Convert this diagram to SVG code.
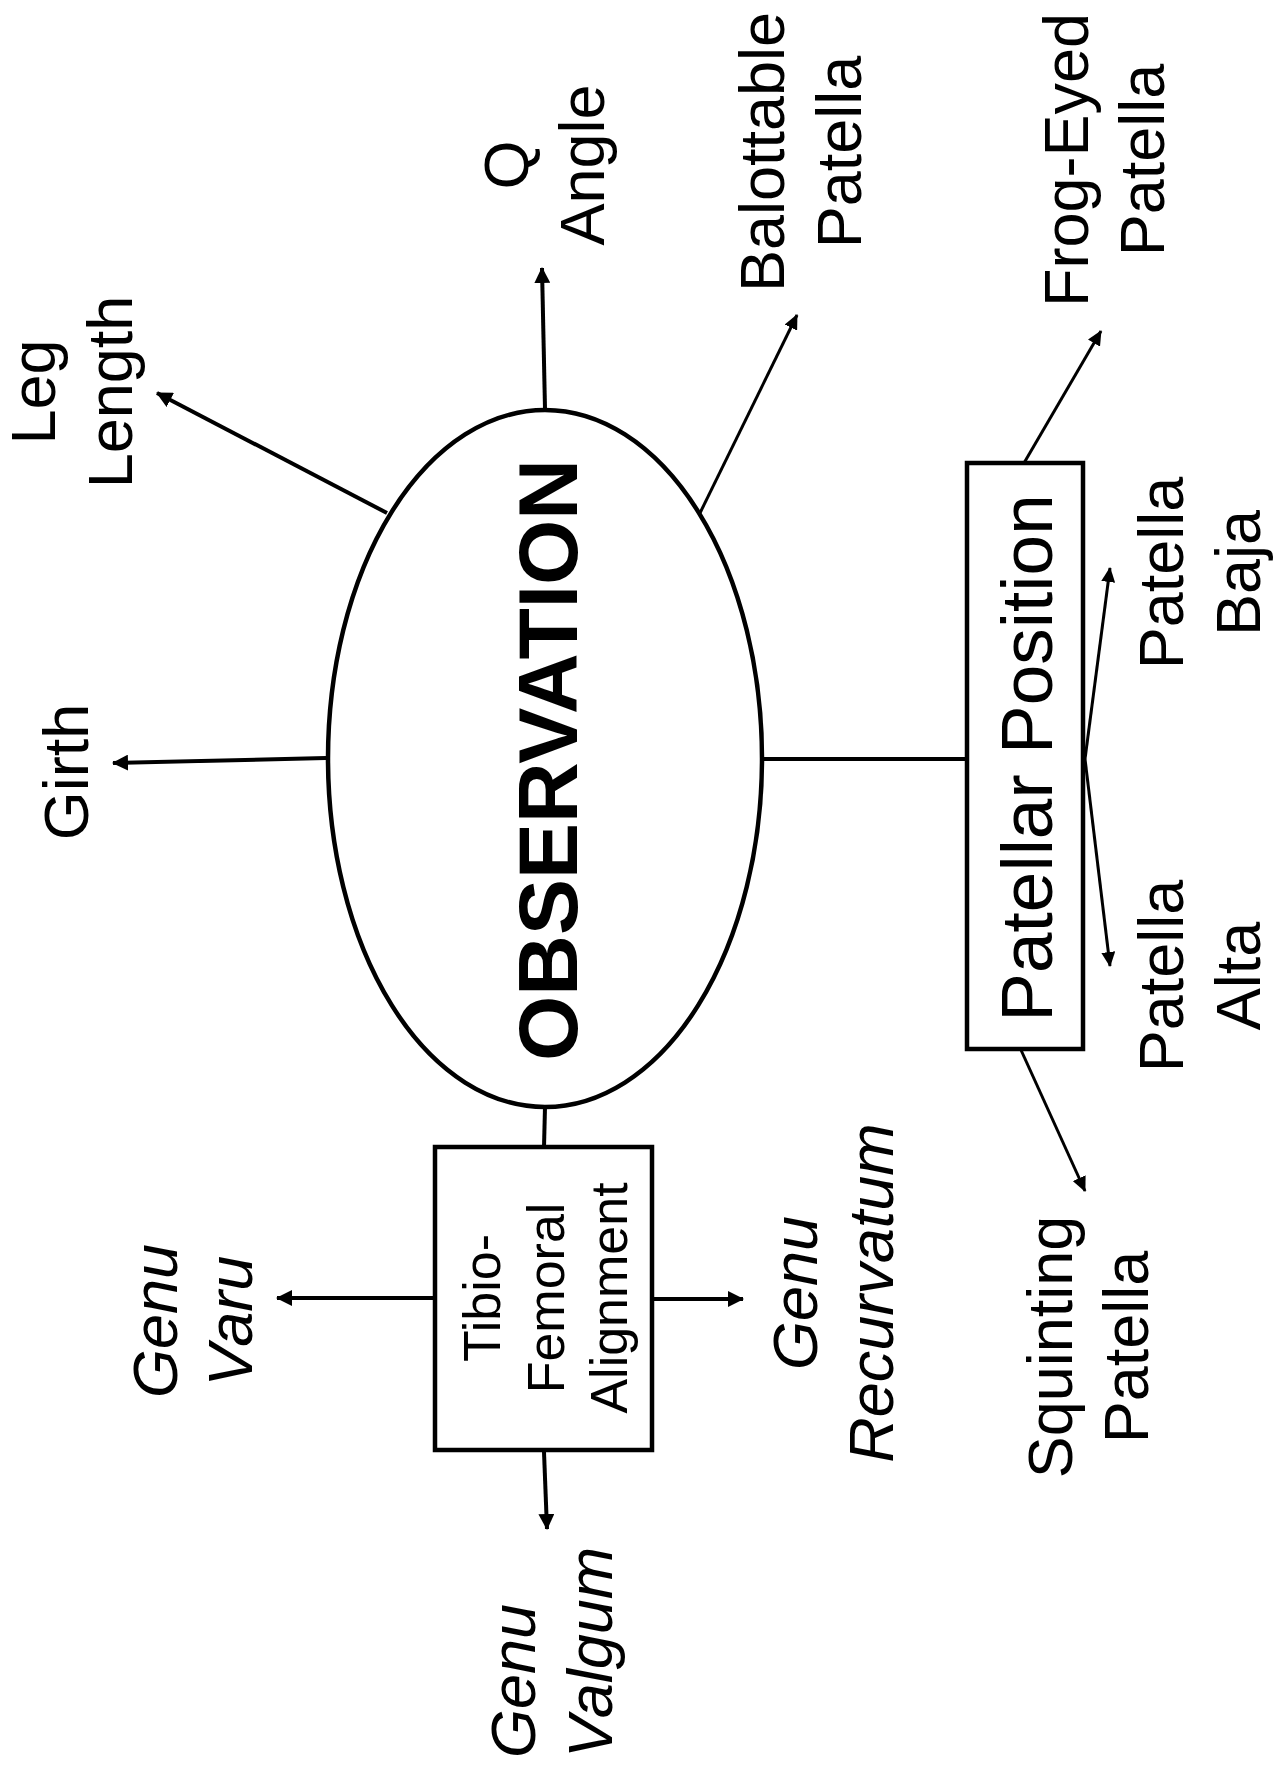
<svg xmlns="http://www.w3.org/2000/svg" width="1275" height="1772" viewBox="0 0 1275 1772">
<style>
text{font-family:"Liberation Sans",Arial,sans-serif;fill:#000}
.lbl{font-size:63px}
.it{font-style:italic}
.shape{fill:#fff;stroke:#000;stroke-width:4.5}
.c{stroke:#000;fill:none}
.w4{stroke-width:4}
.w3{stroke-width:3}
</style>
<defs>
<marker id="ah" markerWidth="16" markerHeight="16" refX="15" refY="8" orient="auto" markerUnits="userSpaceOnUse"><path d="M0,0 L16,8 L0,16 Z" fill="#000"/></marker>
<marker id="ahs" markerWidth="15" markerHeight="14" refX="14" refY="7" orient="auto" markerUnits="userSpaceOnUse"><path d="M0,0 L15,7 L0,14 Z" fill="#000"/></marker>
</defs>
<rect width="1275" height="1772" fill="#fff"/>
<g id="connectors">
<line class="c w4" x1="326" y1="758" x2="113" y2="763" marker-end="url(#ah)"/>
<line class="c w4" x1="387" y1="513" x2="157" y2="393" marker-end="url(#ah)"/>
<line class="c w4" x1="545" y1="409" x2="542" y2="268" marker-end="url(#ah)"/>
<line class="c w3" x1="700" y1="513" x2="797" y2="315" marker-end="url(#ahs)"/>
<line class="c w4" x1="762" y1="759" x2="967" y2="759"/>
<line class="c w3" x1="1024" y1="463" x2="1101" y2="331" marker-end="url(#ahs)"/>
<line class="c w3" x1="1021" y1="1050" x2="1085" y2="1191" marker-end="url(#ahs)"/>
<line class="c w3" x1="1085" y1="759" x2="1110" y2="568" marker-end="url(#ahs)"/>
<line class="c w3" x1="1085" y1="759" x2="1110" y2="966" marker-end="url(#ahs)"/>
<line class="c w4" x1="545" y1="1107" x2="544" y2="1147"/>
<line class="c w4" x1="435" y1="1298" x2="277" y2="1298" marker-end="url(#ah)"/>
<line class="c w4" x1="652" y1="1299" x2="743" y2="1299" marker-end="url(#ah)"/>
<line class="c w4" x1="544" y1="1452" x2="547" y2="1529" marker-end="url(#ah)"/>
</g>
<g id="observation">
<ellipse class="shape" cx="545" cy="758.5" rx="217" ry="348.5"/>
<text transform="translate(577,760) rotate(-90)" text-anchor="middle" font-size="84" font-weight="bold">OBSERVATION</text>
</g>
<g id="patellar-position">
<rect class="shape" x="967" y="463" width="116" height="586"/>
<text transform="translate(1052,758) rotate(-90)" text-anchor="middle" font-size="73">Patellar Position</text>
</g>
<g id="tibio-femoral">
<rect class="shape" x="435" y="1147" width="217" height="303"/>
<text transform="translate(500,1298) rotate(-90)" text-anchor="middle" font-size="52"><tspan x="0" y="0">Tibio-</tspan><tspan x="0" y="63.5">Femoral</tspan><tspan x="0" y="127">Alignment</tspan></text>
</g>
<g id="girth">
<text class="lbl" transform="translate(88,772) rotate(-90)" text-anchor="middle">Girth</text>
</g>
<g id="leg-length">
<text class="lbl" transform="translate(55,392) rotate(-90)" text-anchor="middle"><tspan x="0" y="0">Leg</tspan><tspan x="0" y="77">Length</tspan></text>
</g>
<g id="q-angle">
<text class="lbl" transform="translate(528,165) rotate(-90)" text-anchor="middle"><tspan x="0" y="0">Q</tspan><tspan x="0" y="76">Angle</tspan></text>
</g>
<g id="balottable-patella">
<text class="lbl" transform="translate(784,152) rotate(-90)" text-anchor="middle"><tspan x="0" y="0">Balottable</tspan><tspan x="0" y="77">Patella</tspan></text>
</g>
<g id="frog-eyed-patella">
<text class="lbl" transform="translate(1088,160) rotate(-90)" text-anchor="middle"><tspan x="0" y="0">Frog-Eyed</tspan><tspan x="0" y="76">Patella</tspan></text>
</g>
<g id="patella-baja">
<text class="lbl" transform="translate(1183,573) rotate(-90)" text-anchor="middle"><tspan x="0" y="0">Patella</tspan><tspan x="0" y="77">Baja</tspan></text>
</g>
<g id="patella-alta">
<text class="lbl" transform="translate(1183,976) rotate(-90)" text-anchor="middle"><tspan x="0" y="0">Patella</tspan><tspan x="0" y="77">Alta</tspan></text>
</g>
<g id="squinting-patella">
<text class="lbl" transform="translate(1072,1347) rotate(-90)" text-anchor="middle"><tspan x="0" y="0">Squinting</tspan><tspan x="0" y="76">Patella</tspan></text>
</g>
<g id="genu-varu">
<text class="lbl it" transform="translate(177,1321) rotate(-90)" text-anchor="middle"><tspan x="0" y="0">Genu</tspan><tspan x="0" y="75">Varu</tspan></text>
</g>
<g id="genu-recurvatum">
<text class="lbl it" transform="translate(817,1293) rotate(-90)" text-anchor="middle"><tspan x="0" y="0">Genu</tspan><tspan x="0" y="76">Recurvatum</tspan></text>
</g>
<g id="genu-valgum">
<text class="lbl it" transform="translate(535,1758) rotate(-90)" text-anchor="start"><tspan x="0" y="0">Genu</tspan><tspan x="0" y="77">Valgum</tspan></text>
</g>
</svg>
